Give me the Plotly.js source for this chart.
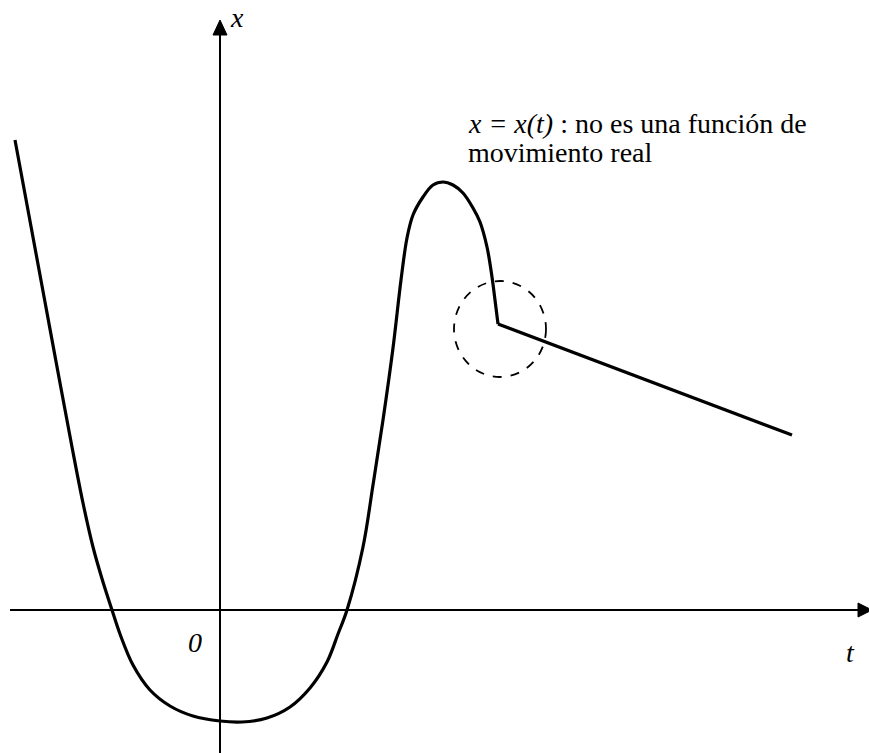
<!DOCTYPE html>
<html>
<head>
<meta charset="utf-8">
<script src="https://cdn.plot.ly/plotly-3.0.1.min.js"></script>
<style>
  html, body { margin: 0; padding: 0; background: #ffffff; }
  #chart { width: 869px; height: 753px; }
</style>
</head>
<body>
<div id="chart"></div>
<script>
// Smooth part of the trajectory x(t), up to the kink
const curveT = [-205, -190, -175, -160, -148, -137, -127, -117, -108, -100, -87, -70, -50, -27, 0, 22, 47, 70, 90, 107, 118, 127, 143, 153, 163, 173, 181, 187, 193, 203, 213, 223, 233, 243, 253, 260, 267, 272, 275, 278];
const curveX = [470, 389, 308, 227, 163, 107, 63, 28, 0, -24, -55, -80, -96, -106, -111, -112, -108, -97, -78, -52, -24, 0, 63, 125, 190, 262, 330, 372, 395, 413, 425, 428, 425, 417, 402, 388, 363, 333, 310, 286];

// Straight tail after the kink
const tailT = [278, 572];
const tailX = [286, 175];

// Axis labels and note
const axisLabelX = 'x';
const axisLabelT = 't';
const originLabel = '0';
const noteLine1 = '<i>x = x(t)</i> : no es una función de';
const noteLine2 = 'movimiento real';

const serif = 'Liberation Serif, DejaVu Serif, serif';
const ink = '#000000';

const traces = [
  {
    x: curveT, y: curveX, type: 'scatter', mode: 'lines',
    line: { color: ink, width: 3.2, shape: 'spline', smoothing: 1 },
    hoverinfo: 'skip'
  },
  {
    x: tailT, y: tailX, type: 'scatter', mode: 'lines',
    line: { color: ink, width: 3.2 },
    hoverinfo: 'skip'
  }
];

const layout = {
  width: 869, height: 753,
  margin: { l: 0, r: 0, t: 0, b: 0 },
  paper_bgcolor: '#ffffff', plot_bgcolor: '#ffffff',
  showlegend: false,
  font: { family: serif, color: ink },
  xaxis: { range: [-220, 649], visible: false, fixedrange: true },
  yaxis: { range: [-143, 610], visible: false, fixedrange: true },
  shapes: [
    // t axis
    { type: 'line', xref: 'x', yref: 'y', x0: -210, y0: 0, x1: 640, y1: 0,
      line: { color: ink, width: 2 } },
    { type: 'path', xref: 'x', yref: 'y', path: 'M 638,-7 L 638,7 L 652,0 Z',
      fillcolor: ink, line: { color: ink, width: 1 } },
    // x axis
    { type: 'line', xref: 'x', yref: 'y', x0: 0, y0: -150, x1: 0, y1: 576,
      line: { color: ink, width: 2 } },
    { type: 'path', xref: 'x', yref: 'y', path: 'M -7,575 L 7,575 L 0,590 Z',
      fillcolor: ink, line: { color: ink, width: 1 } },
    // dashed circle around the kink
    { type: 'circle', xref: 'x', yref: 'y', x0: 234, x1: 326, y0: 233, y1: 329,
      line: { color: ink, width: 1.8, dash: 'dash' } }
  ],
  annotations: [
    { x: 17, y: 593, xref: 'x', yref: 'y', text: '<i>' + axisLabelX + '</i>', showarrow: false,
      font: { family: serif, size: 28, color: ink }, xanchor: 'center', yanchor: 'middle' },
    { x: 630, y: -42, xref: 'x', yref: 'y', text: '<i>' + axisLabelT + '</i>', showarrow: false,
      font: { family: serif, size: 28, color: ink }, xanchor: 'center', yanchor: 'middle' },
    { x: -25, y: -32, xref: 'x', yref: 'y', text: '<i>' + originLabel + '</i>', showarrow: false,
      font: { family: serif, size: 28, color: ink }, xanchor: 'center', yanchor: 'middle' },
    { x: 246, y: 487, xref: 'x', yref: 'y', text: noteLine1, showarrow: false,
      font: { family: serif, size: 28, color: ink }, xanchor: 'left', yanchor: 'middle' },
    { x: 246, y: 458, xref: 'x', yref: 'y', text: noteLine2, showarrow: false,
      font: { family: serif, size: 28, color: ink }, xanchor: 'left', yanchor: 'middle' }
  ]
};

Plotly.newPlot('chart', traces, layout, { displayModeBar: false, staticPlot: true });
</script>
</body>
</html>
